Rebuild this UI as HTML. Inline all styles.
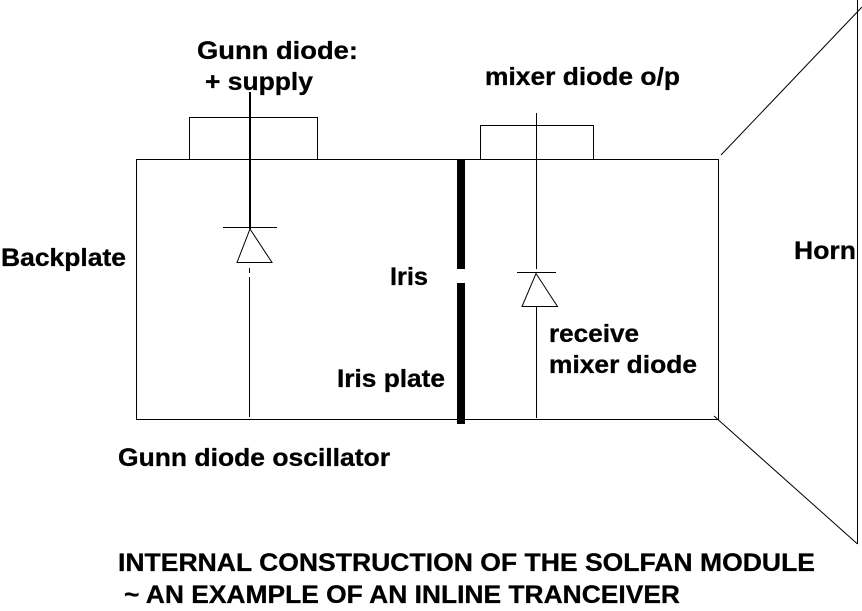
<!DOCTYPE html>
<html>
<head>
<meta charset="utf-8">
<style>
html,body{margin:0;padding:0;background:#fff;width:862px;height:611px;overflow:hidden}
svg{display:block}
text{font-family:"Liberation Sans",Arial,sans-serif;font-weight:bold;font-size:25px;fill:#000;stroke:#000;stroke-width:.3px}
</style>
</head>
<body>
<svg width="862" height="611" viewBox="0 0 862 611" xmlns="http://www.w3.org/2000/svg">
<rect width="862" height="611" fill="#fff"/>
<g fill="none" stroke="#000" stroke-width="1" shape-rendering="crispEdges">
<rect x="136.5" y="159.5" width="582" height="260"/>
<path d="M189.5 159V117.5H317.5V159"/>
<path d="M480.5 159V125.5H593.5V159"/>
<path d="M223 227.5H277"/>
<path d="M517 272.5H556"/>
<path d="M536.5 113V269"/>
<path d="M536.5 306V418"/>
<path d="M249.5 268V273M249.5 277V417"/>
<path d="M857.5 0V544"/>
</g>
<g fill="none" stroke="#000" stroke-width="1">
<path d="M250 229L272 262.5H237Z"/>
<path d="M536 273.5L557.5 306.5H522Z"/>
<path d="M721 155L862 7"/>
<path d="M714 416L857.5 544"/>
</g>
<rect x="249" y="92" width="2" height="137" fill="#000"/>
<rect x="457" y="159" width="8" height="110" fill="#000"/>
<rect x="457" y="283" width="8" height="141" fill="#000"/>
<text x="197" y="59" textLength="161" lengthAdjust="spacingAndGlyphs">Gunn diode:</text>
<text x="205" y="90" textLength="108" lengthAdjust="spacingAndGlyphs">+ supply</text>
<text x="485" y="85" textLength="195" lengthAdjust="spacingAndGlyphs">mixer diode o/p</text>
<text x="1" y="266" textLength="125" lengthAdjust="spacingAndGlyphs">Backplate</text>
<text x="794" y="259" textLength="62" lengthAdjust="spacingAndGlyphs">Horn</text>
<text x="390" y="285" textLength="38" lengthAdjust="spacingAndGlyphs">Iris</text>
<text x="337" y="387" textLength="108" lengthAdjust="spacingAndGlyphs">Iris plate</text>
<text x="549" y="342" textLength="90" lengthAdjust="spacingAndGlyphs">receive</text>
<text x="549" y="373" textLength="148" lengthAdjust="spacingAndGlyphs">mixer diode</text>
<text x="118" y="466" textLength="272" lengthAdjust="spacingAndGlyphs">Gunn diode oscillator</text>
<text x="118" y="571" textLength="697" lengthAdjust="spacingAndGlyphs">INTERNAL CONSTRUCTION OF THE SOLFAN MODULE</text>
<text x="124" y="603" textLength="556" lengthAdjust="spacingAndGlyphs">~ AN EXAMPLE OF AN INLINE TRANCEIVER</text>
</svg>
</body>
</html>
